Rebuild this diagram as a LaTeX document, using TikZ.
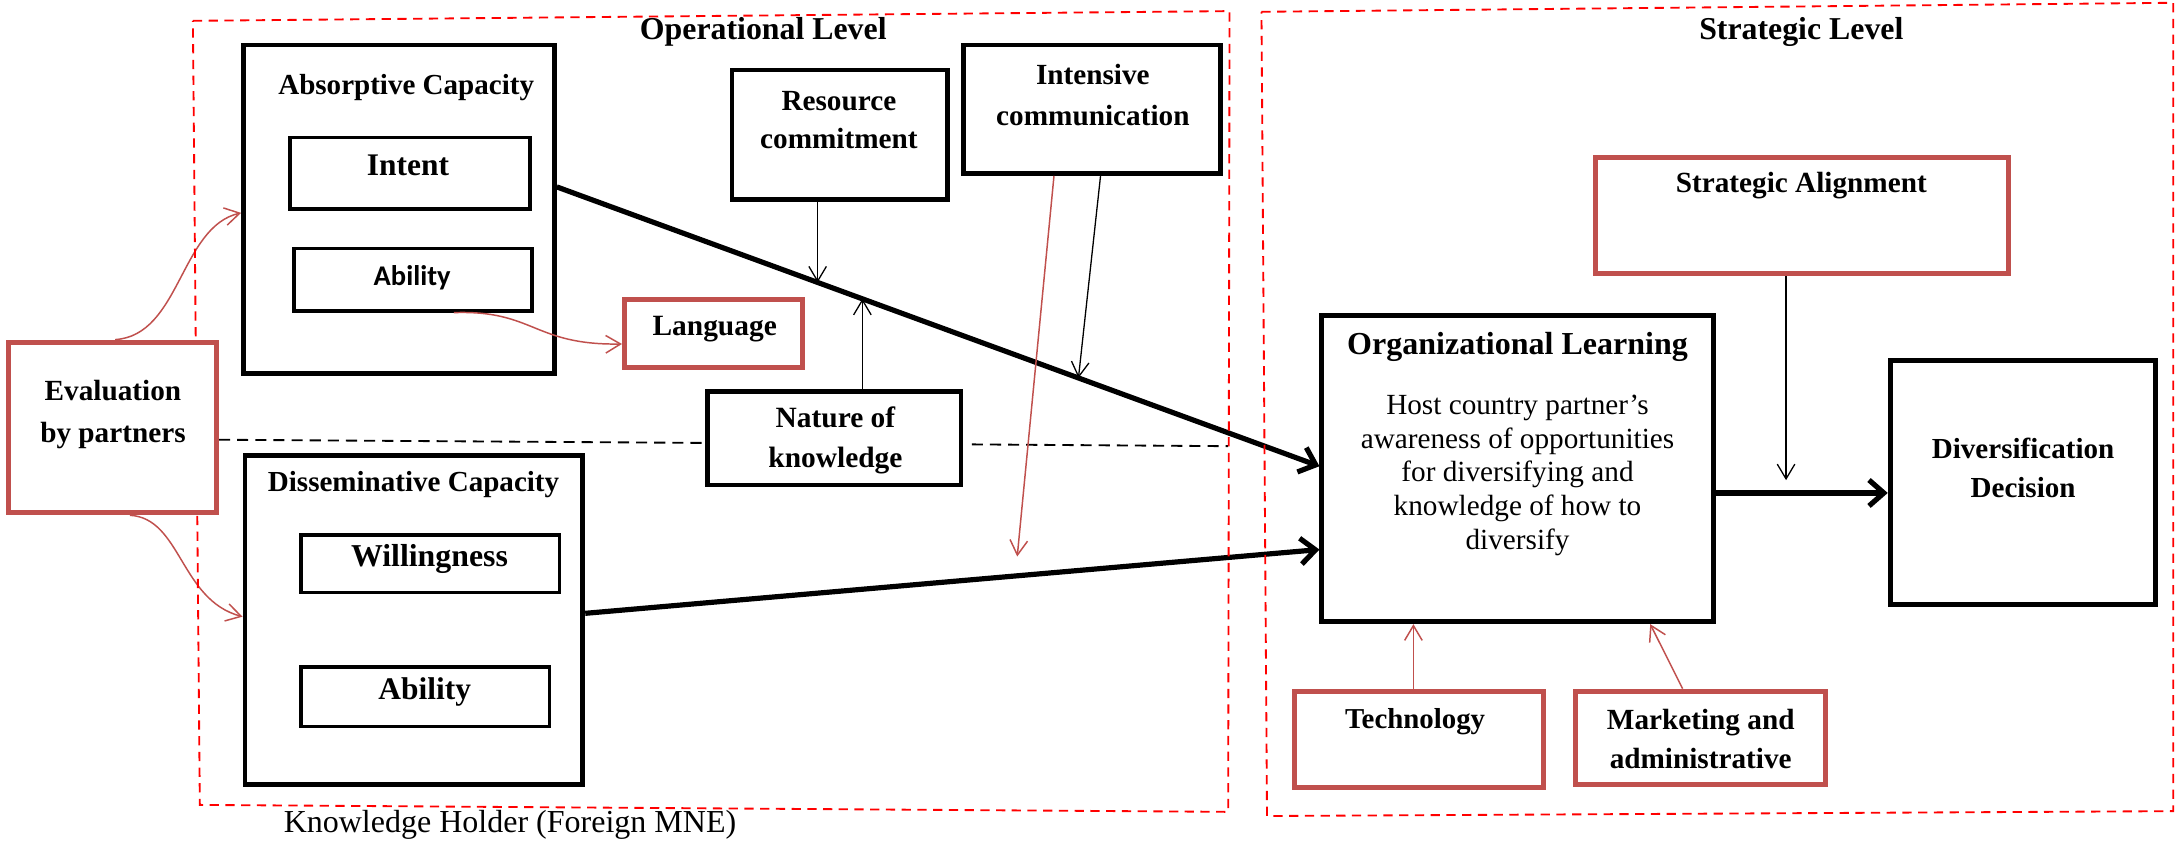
\documentclass[tikz,border=0pt]{standalone}
\usepackage{fontspec}
\setmainfont{Liberation Serif}
\newfontfamily\calibrifont{Carlito}
\usetikzlibrary{arrows.meta,calc}

\definecolor{accred}{RGB}{192,80,77}
\definecolor{framered}{RGB}{255,0,0}

\begin{document}
\begin{tikzpicture}[x=0.75pt,y=-0.75pt,
  blackbox/.style={draw=black, line width=2.6pt, fill=white, inner sep=0pt},
  innerbox/.style={draw=black, line width=1.9pt, fill=white, inner sep=0pt},
  redbox/.style={draw=accred, line width=2.7pt, fill=white, inner sep=0pt},
  bl/.style 2 args={font={\fontsize{#1}{#2}\selectfont\bfseries}, align=center, inner sep=0pt},
  rl/.style 2 args={font={\fontsize{#1}{#2}\selectfont}, align=center, inner sep=0pt},
  thickarrow/.style={draw=black, line width=2.8pt, -{Straight Barb[length=8pt,width=14pt]}},
  thinarrow/.style={draw=black, line width=0.7pt, -{Straight Barb[length=8pt,width=9.5pt]}},
  redarrow/.style={draw=accred, line width=0.8pt, -{Straight Barb[length=8pt,width=9.5pt]}},
  dashline/.style={draw=black, line width=1pt, dash pattern=on 6pt off 3.8pt},
  frame/.style={draw=framered, line width=1pt, dash pattern=on 5pt off 3.5pt}
]
\useasboundingbox (0,0) rectangle (1568,608);

% ---------- boxes (placed first so connectors can refer to them) ----------
\path
  node[blackbox, minimum width=168pt,    minimum height=177.4pt] (abs)   at (287.5,150.75) {}
  node[blackbox, minimum width=182.6pt,  minimum height=177.75pt] (diss) at (298.25,447) {}
  node[blackbox, minimum width=116.25pt, minimum height=69.75pt] (res)   at (605,97) {}
  node[blackbox, minimum width=138.75pt, minimum height=69.4pt]  (inten) at (787,78.75) {}
  node[blackbox, minimum width=136.9pt,  minimum height=50.6pt]  (nat)   at (601.25,315.75) {}
  node[blackbox, minimum width=211.5pt,  minimum height=165.4pt] (org)   at (1093.5,337.75) {}
  node[blackbox, minimum width=143.6pt,  minimum height=131.6pt] (div)   at (1457.75,347.75) {}
  node[redbox,   minimum width=112.5pt,  minimum height=92.25pt] (eval)  at (81,308) {}
  node[redbox,   minimum width=96.4pt,   minimum height=36.75pt] (lang)  at (514.25,240.5) {}
  node[redbox,   minimum width=222.75pt, minimum height=62.6pt]  (sal)   at (1298.5,155.25) {}
  node[redbox,   minimum width=134.25pt, minimum height=51.75pt] (tech)  at (1022.5,533) {}
  node[redbox,   minimum width=135pt,    minimum height=50.6pt]  (mkt)   at (1225.5,531.75) {};

% ---------- connectors ----------
\coordinate (t1s) at ($(abs.north east)!0.433!(abs.south east)$);
\coordinate (t1e) at ($(org.north west)!0.492!(org.south west)$);
\coordinate (rc) at ($(t1s)!0.342!(t1e)$);
\coordinate (nc) at ($(t1s)!0.4007!(t1e)$);
\coordinate (ic) at ($(t1s)!0.684!(t1e)$);
\coordinate (redend) at (733,401);
\coordinate (salend) at (1287,346);
\coordinate (dashend) at (885,321.5);

\draw[dashline] ($(eval.north east)!0.57!(eval.south east)$) -- ($(nat.north west)!0.548!(nat.south west)$);
\draw[dashline] ($(nat.north east)!0.563!(nat.south east)+(6,0)$) -- (dashend);

\draw[thickarrow] (t1s) -- (t1e);
\draw[thickarrow] ($(diss.north east)!0.479!(diss.south east)$) -- ($(org.north west)!0.76!(org.south west)$);
\draw[thickarrow] ($(org.north east)!0.578!(org.south east)$) coordinate (o3) -- (o3 -| div.west);

\draw[thinarrow] (rc |- res.south) -- (rc);
\draw[thinarrow] (nc |- nat.north) -- (nc);
\draw[thinarrow] ($(inten.south west)!0.532!(inten.south east)$) -- (ic);
\draw[thinarrow] (salend |- sal.south) -- (salend);

\draw[redarrow] ($(inten.south west)!0.354!(inten.south east)$) -- (redend);
\draw[redarrow] ($(tech.north west)!0.478!(tech.north east)$) coordinate (tq) -- (tq |- org.south);
\draw[redarrow] ($(mkt.north west)!0.429!(mkt.north east)$) -- ($(org.south west)!0.835!(org.south east)$);
\draw[redarrow] ($(eval.north west)!0.513!(eval.north east)$) .. controls +(47,-3) and +(-44,10) .. ($(abs.north west)!0.511!(abs.south west)$);
\draw[redarrow] ($(eval.south west)!0.582!(eval.south east)$) .. controls +(37,2) and +(-45,-12) .. ($(diss.north west)!0.489!(diss.south west)$);

% ---------- dashed level frames ----------
\draw[frame] (139,15) -- (886,8) -- (885,585) -- (144,580) -- cycle;
\draw[frame] (909,8.5) -- (1566,2) -- (1566,584.5) -- (913,588) -- cycle;

% ---------- boxes drawn again on top of the frames ----------
\path
  node[blackbox, minimum width=168pt,    minimum height=177.4pt] at (abs) {}
  node[blackbox, minimum width=182.6pt,  minimum height=177.75pt] at (diss) {}
  node[redbox,   minimum width=112.5pt,  minimum height=92.25pt] at (eval) {};
\node[innerbox, minimum width=129.75pt, minimum height=38.6pt]  (intent) at (295.5,124.75) {};
\node[innerbox, minimum width=128.6pt,  minimum height=33.75pt] (abil1)  at (297.75,201.5) {};
\node[innerbox, minimum width=139.5pt,  minimum height=31.1pt]  (will)   at (310,406.25) {};
\node[innerbox, minimum width=134.25pt, minimum height=32.25pt] (abil2)  at (306.5,502) {};

\draw[redarrow] ($(abil1.south west)!0.668!(abil1.south east)$) .. controls +(58,-2) and +(-64,1) .. ($(lang.north west)!0.64!(lang.south west)$);

% ---------- labels ----------
\node[bl={17.2}{21}] (tOp) at (550,23) {Operational Level};
\node[bl={17.2}{21}] (tSt) at (1298,23) {Strategic Level};
\node[bl={15.7}{21}] (tAbs) at (292.7,63) {Absorptive Capacity};
\node[bl={17}{21}] (tInt) at (294,119.4) {Intent};
\node[font={\fontsize{15.4}{20}\calibrifont\bfseries}, inner sep=0pt] (tAb1) at (297,200) {Ability};
\node[bl={15.9}{21}] (tLang) at (515,237) {Language};
\node[bl={15.8}{22.5}] (tEval) at (81.4,298.5) {Evaluation\\by partners};
\node[bl={15.7}{21}] (tDiss) at (298,349.5) {Disseminative Capacity};
\node[bl={17.2}{21}] (tWill) at (309.5,403) {Willingness};
\node[bl={17}{21}] (tAb2) at (306,498.4) {Ability};
\node[bl={15.8}{20.6}] (tRes) at (604.5,86.25) {Resource\\commitment};
\node[bl={15.8}{21.75}] (tInten) at (787.5,68.5) {Intensive\\communication};
\node[bl={15.9}{21.75}] (tNat) at (602,317.5) {Nature of\\knowledge};
\node[bl={17.3}{21}] (tOrg) at (1093.5,250) {Organizational Learning};
\node[rl={15.8}{18.2}] (tHost) at (1093.5,342.5) {Host country partner’s\\awareness of opportunities\\for diversifying and\\knowledge of how to\\diversify};
\node[bl={15.8}{21}] (tSal) at (1298,134) {Strategic Alignment};
\node[bl={15.7}{21.4}] (tDiv) at (1457.8,337.3) {Diversification\\Decision};
\node[bl={15.6}{21}] (tTech) at (1019.7,520) {Technology};
\node[bl={15.8}{21.3}] (tMkt) at (1225.5,532.6) {Marketing and\\administrative};
\node[rl={17.3}{21}] (tKH) at (367.5,594.5) {Knowledge Holder (Foreign MNE)};
\end{tikzpicture}
\end{document}
